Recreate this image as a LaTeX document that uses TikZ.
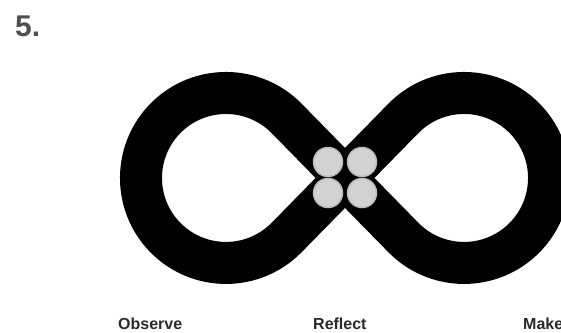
\documentclass[tikz,border=0pt]{standalone}
\usepackage{fontspec}
\setmainfont{Liberation Sans}
\definecolor{numgray}{HTML}{505050}
\definecolor{labgray}{HTML}{2A2A2A}
\definecolor{dotfill}{HTML}{D2D2D2}
\definecolor{dotedge}{HTML}{BDBDBD}
\begin{document}
\begin{tikzpicture}[x=1pt,y=1pt,
  band/.style={draw=black,line width=42pt,line join=round},
  dot/.style={circle,fill=dotfill,draw=dotedge,line width=1.5pt,minimum size=29pt,inner sep=0pt},
  lab/.style={font=\bfseries\fontsize{16}{16}\selectfont,text=labgray,inner sep=0pt,anchor=base west}]
\useasboundingbox (0,0) rectangle (561,332);
\clip (0,0) rectangle (561,332);
\fill[white] (0,0) rectangle (561,332);
% number
\node[font=\bfseries\fontsize{30}{30}\selectfont,text=numgray,inner sep=0pt,anchor=base west] (num) at (15,295) {5.};
% infinity band
\coordinate (cross) at (345,154);
\draw[band] (286.7,213.5) arc[start angle=44.4,end angle=315.6,radius=85]
  -- (403.3,213.5) arc[start angle=135.6,end angle=-135.6,radius=85] -- cycle;
% dots
\node[dot] (d1) at (328,170) {};
\node[dot] (d2) at (362,170) {};
\node[dot] (d3) at (328,139) {};
\node[dot] (d4) at (362,139) {};
% labels
\node[lab] (obs) at (118,3) {Observe};
\node[lab] (ref) at (313,3) {Reflect};
\node[lab] (mak) at (523,3) {Make};
\end{tikzpicture}
\end{document}
